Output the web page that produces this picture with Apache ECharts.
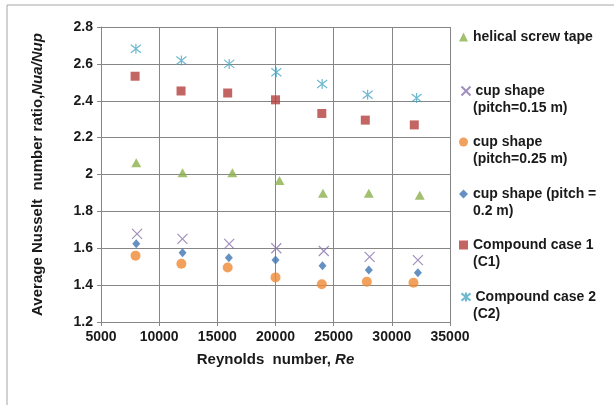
<!DOCTYPE html>
<html>
<head>
<meta charset="utf-8">
<script src="https://cdn.jsdelivr.net/npm/echarts@6/dist/echarts.min.js"></script>
<style>
  html, body { margin: 0; padding: 0; background: #fff; }
  #chart { width: 614px; height: 405px; }
</style>
</head>
<body>
<div id="chart"></div>
<script>
// Reynolds numbers and Nusselt number ratios for each insert configuration
const helicalRe = [8030, 12010, 16290, 20340, 24080, 28020, 32400];
const helical   = [2.064, 2.009, 2.009, 1.967, 1.898, 1.898, 1.887];

const cup15Re = [8100, 12000, 16020, 20070, 24150, 28090, 32240];
const cup15   = [1.678, 1.651, 1.624, 1.600, 1.585, 1.553, 1.536];

const cup25Re = [7970, 11910, 15890, 20000, 23980, 27850, 31860];
const cup25   = [1.560, 1.516, 1.496, 1.442, 1.405, 1.418, 1.413];

const cup20Re = [8030, 12010, 15990, 20000, 24040, 28020, 32240];
const cup20   = [1.624, 1.576, 1.549, 1.536, 1.505, 1.482, 1.467];

const c1Re = [7930, 11880, 15890, 20000, 23980, 27720, 31930];
const c1   = [2.533, 2.453, 2.442, 2.405, 2.331, 2.295, 2.269];

const c2Re = [8000, 11910, 16020, 20070, 24010, 27920, 32130];
const c2   = [2.682, 2.618, 2.600, 2.555, 2.491, 2.433, 2.415];

const seriesNames = [
  'helical screw tape',
  'cup shape (pitch=0.15 m)',
  'cup shape (pitch=0.25 m)',
  'cup shape (pitch = 0.2 m)',
  'Compound case 1 (C1)',
  'Compound case 2 (C2)'
];
// legend text split over two lines
const legendLines = [
  ['helical screw tape', ''],
  ['cup shape', '(pitch=0.15 m)'],
  ['cup shape', '(pitch=0.25 m)'],
  ['cup shape (pitch =', '0.2 m)'],
  ['Compound case 1', '(C1)'],
  ['Compound case 2', '(C2)']
];
const legendTops = [38, 92, 143, 195, 246, 298];

const FONT = '"Liberation Sans", Arial, sans-serif';
const pairs = (xs, ys) => xs.map((x, i) => [x, ys[i]]);

const crossPath = 'path://M0,0L10,10M10,0L0,10';
const starPath = 'path://M0,1L10,9M10,1L0,9M5,0L5,10';

const chart = echarts.init(document.getElementById('chart'), null, { renderer: 'canvas' });

const legends = seriesNames.map((name, i) => ({
  data: [name],
  left: 459,
  top: legendTops[i] - 8,
  padding: 0,
  itemWidth: 9,
  itemHeight: 9,
  selectedMode: false,
  formatter: () => legendLines[i][0],
  textStyle: { fontFamily: FONT, fontSize: 14, fontWeight: 'bold', color: '#1a1a1a' }
}));

const secondLines = legendLines.map((l, i) => ({
  type: 'text',
  left: 473,
  top: legendTops[i] + 9,
  style: { text: l[1], font: 'bold 14px ' + FONT, fill: '#1a1a1a' }
}));

chart.setOption({
  animation: false,
  backgroundColor: '#ffffff',
  grid: { left: 101, top: 27, width: 349, height: 295, containLabel: false },
  legend: legends,
  graphic: [
    {
      type: 'rect',
      shape: { x: 7, y: 5, width: 640, height: 440 },
      style: { fill: 'none', stroke: '#a6a6a6', lineWidth: 1 },
      silent: true
    }
  ].concat(secondLines),
  xAxis: {
    type: 'value',
    min: 5000, max: 35000, interval: 5000,
    name: 'Reynolds  number, {i|Re}',
    nameLocation: 'middle',
    nameGap: 30,
    nameTextStyle: {
      fontFamily: FONT, fontSize: 15, fontWeight: 'bold', color: '#1a1a1a',
      rich: { i: { fontFamily: FONT, fontSize: 15, fontWeight: 'bold', fontStyle: 'italic', color: '#1a1a1a' } }
    },
    axisLine: { lineStyle: { color: '#868686', width: 1 } },
    axisTick: { show: true, length: 4, lineStyle: { color: '#868686' } },
    axisLabel: {
      fontFamily: FONT, fontSize: 14, fontWeight: 'bold', color: '#1a1a1a', margin: 8,
      formatter: v => String(v)
    },
    splitLine: { show: true, lineStyle: { color: '#868686', width: 1 } }
  },
  yAxis: {
    type: 'value',
    min: 1.2, max: 2.8, interval: 0.2,
    name: 'Average Nusselt  number ratio,{i|Nua/Nup}',
    nameLocation: 'middle',
    nameGap: 56,
    nameTextStyle: {
      fontFamily: FONT, fontSize: 15, fontWeight: 'bold', color: '#1a1a1a',
      rich: { i: { fontFamily: FONT, fontSize: 15, fontWeight: 'bold', fontStyle: 'italic', color: '#1a1a1a' } }
    },
    axisLine: { show: true, lineStyle: { color: '#868686', width: 1 } },
    axisTick: { show: true, length: 4, lineStyle: { color: '#868686' } },
    axisLabel: {
      fontFamily: FONT, fontSize: 14, fontWeight: 'bold', color: '#1a1a1a', margin: 8,
      formatter: v => String(Math.round(v * 10) / 10)
    },
    splitLine: { show: true, lineStyle: { color: '#868686', width: 1 } }
  },
  series: [
    {
      name: seriesNames[0], type: 'scatter', data: pairs(helicalRe, helical),
      symbol: 'triangle', symbolSize: [10, 9],
      itemStyle: { color: '#8cb04c' }
    },
    {
      name: seriesNames[1], type: 'scatter', data: pairs(cup15Re, cup15),
      symbol: crossPath, symbolSize: 10,
      itemStyle: { color: 'none', borderColor: '#8a73ad', borderWidth: 1.2 }
    },
    {
      name: seriesNames[2], type: 'scatter', data: pairs(cup25Re, cup25),
      symbol: 'circle', symbolSize: 10,
      itemStyle: { color: '#ef8a33' }
    },
    {
      name: seriesNames[3], type: 'scatter', data: pairs(cup20Re, cup20),
      symbol: 'diamond', symbolSize: [8, 9],
      itemStyle: { color: '#3f74b3' }
    },
    {
      name: seriesNames[4], type: 'scatter', data: pairs(c1Re, c1),
      symbol: 'rect', symbolSize: 9,
      itemStyle: { color: '#b43f3c' }
    },
    {
      name: seriesNames[5], type: 'scatter', data: pairs(c2Re, c2),
      symbol: starPath, symbolSize: 10,
      itemStyle: { color: 'none', borderColor: '#4aa8c2', borderWidth: 1.2 }
    }
  ]
});
</script>
</body>
</html>
